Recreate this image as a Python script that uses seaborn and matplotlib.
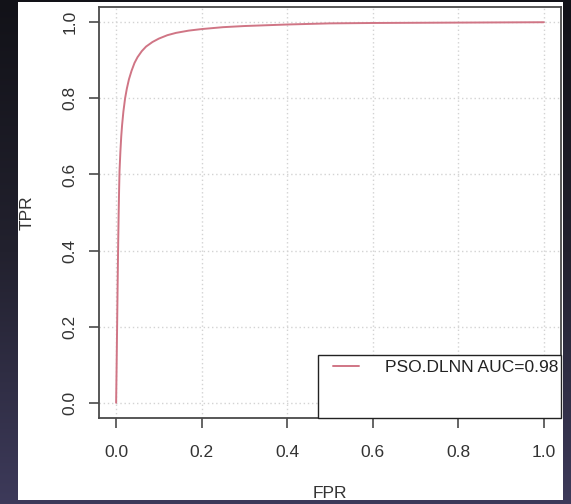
import numpy as np
import matplotlib
matplotlib.use("Agg")
import matplotlib.pyplot as plt
from matplotlib.patches import Rectangle
from matplotlib.colors import LinearSegmentedColormap
import seaborn as sns

# ROC curve values
fpr = [0.0, 0.001, 0.002, 0.003, 0.004, 0.005, 0.006, 0.007, 0.008, 0.010,
       0.012, 0.014, 0.017, 0.021, 0.025, 0.030, 0.036, 0.043, 0.050, 0.060,
       0.070, 0.085, 0.100, 0.120, 0.140, 0.170, 0.200, 0.250, 0.300, 0.350,
       0.400, 0.500, 0.600, 0.800, 1.0]
tpr = [0.0, 0.08, 0.17, 0.26, 0.35, 0.43, 0.50, 0.56, 0.61, 0.66,
       0.70, 0.73, 0.765, 0.80, 0.825, 0.85, 0.872, 0.893, 0.908, 0.924,
       0.936, 0.948, 0.957, 0.966, 0.972, 0.978, 0.982, 0.987, 0.990, 0.992,
       0.994, 0.997, 0.998, 0.999, 1.0]
series_label = "PSO.DLNN AUC=0.98"
x_ticks = [0.0, 0.2, 0.4, 0.6, 0.8, 1.0]
y_ticks = [0.0, 0.2, 0.4, 0.6, 0.8, 1.0]
x_label = "FPR"
y_label = "TPR"

sns.set_theme(style="white")
plt.rcParams['font.family'] = ['Liberation Sans', 'DejaVu Sans']

W, H = 571, 504
fig = plt.figure(figsize=(W / 100, H / 100), dpi=100)

# dark slide background with gradient
bg = fig.add_axes([0, 0, 1, 1])
grad = np.linspace(0, 1, 256)[:, None]
cmap = LinearSegmentedColormap.from_list("bg", ["#121218", "#22212e", "#3d3a5a"])
bg.imshow(grad, aspect="auto", cmap=cmap, extent=[0, 1, 0, 1], origin="upper")
bg.add_patch(Rectangle((18 / W, (H - 500) / H), 545 / W, 498 / H,
                       facecolor="white", edgecolor="none"))
bg.set_xlim(0, 1)
bg.set_ylim(0, 1)
bg.axis("off")

left, right, top, bottom = 99, 561, 7, 418
ax = fig.add_axes([left / W, (H - bottom) / H, (right - left) / W, (bottom - top) / H])
ax.set_facecolor("white")

sns.lineplot(x=fpr, y=tpr, ax=ax, color="#d07585", linewidth=1.4,
             estimator=None, sort=False, label=series_label, zorder=3)

ax.set_xlim(-0.04, 1.04)
ax.set_ylim(-0.04, 1.04)
ax.set_xticks(x_ticks)
ax.set_yticks(y_ticks)
ax.set_xticklabels([f"{v:.1f}" for v in x_ticks])
ax.set_yticklabels([f"{v:.1f}" for v in y_ticks], rotation=90, va="center")

ax.grid(True, color="#d3d3d3", linestyle=(0, (1, 2)), linewidth=1.0)
ax.set_axisbelow(True)

for s in ax.spines.values():
    s.set_color("#4a4a4a")
    s.set_linewidth(1.3)
    s.set_visible(True)

ax.tick_params(axis="both", which="both", direction="out", length=7.5, width=1.2,
               color="#4a4a4a", labelsize=12.5, labelcolor="#333333",
               bottom=True, left=True, top=False, right=False)
ax.tick_params(axis="x", pad=12)
ax.tick_params(axis="y", pad=8)

ax.set_xlabel(x_label, fontsize=12.5, color="#333333", labelpad=19)
ax.set_ylabel(y_label, fontsize=12.5, color="#333333", labelpad=20)

# legend box (R style, flush with lower-right corner)
bx0 = (318 - left) / (right - left)
by1 = (bottom - 355) / (bottom - top)
ax.add_patch(Rectangle((bx0, 0), 1 - bx0, by1, transform=ax.transAxes,
                       facecolor="white", edgecolor="#222222", linewidth=1.0,
                       zorder=4, clip_on=False))
leg = ax.legend(loc="center left",
                bbox_to_anchor=((333 - left) / (right - left), (bottom - 367) / (bottom - top)),
                frameon=False, borderpad=0, borderaxespad=0,
                handlelength=1.5, handletextpad=1.5, fontsize=12.5)
leg.set_zorder(5)
for t in leg.get_texts():
    t.set_color("#222222")

fig.savefig("out.png", dpi=100)
